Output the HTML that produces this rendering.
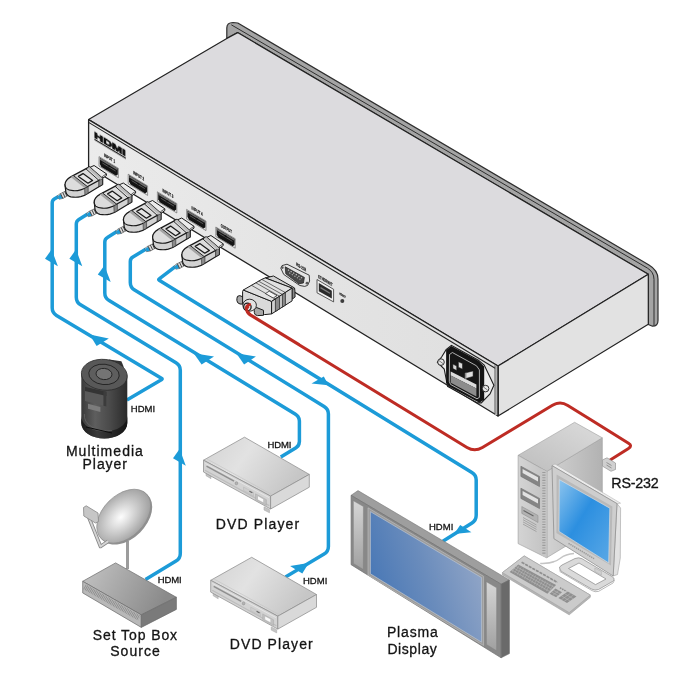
<!DOCTYPE html>
<html><head><meta charset="utf-8">
<style>
html,body{margin:0;padding:0;background:#fff;}
body{width:688px;height:684px;overflow:hidden;font-family:"Liberation Sans",sans-serif;}
svg{display:block;}
text{font-family:"Liberation Sans",sans-serif;fill:#141414;}
#labels text{stroke:#141414;stroke-width:0.3px;}
</style></head><body>
<svg width="688" height="684" viewBox="0 0 688 684">
<defs>
<filter id="gs" x="-5%" y="-30%" width="110%" height="160%" color-interpolation-filters="sRGB"><feOffset dx="0" dy="0"/></filter>

<linearGradient id="gCyl" x1="0" x2="1" y1="0" y2="0"><stop offset="0" stop-color="#3a3a3a"/><stop offset="0.3" stop-color="#5e5e5e"/><stop offset="0.62" stop-color="#4a4a4a"/><stop offset="1" stop-color="#2a2a2a"/></linearGradient>
<linearGradient id="gCylB" x1="0" x2="1" y1="0" y2="0"><stop offset="0" stop-color="#1c1c1c"/><stop offset="0.35" stop-color="#3a3a3a"/><stop offset="1" stop-color="#141414"/></linearGradient>
<radialGradient id="gDish" cx="0.46" cy="0.47" r="0.55"><stop offset="0" stop-color="#fdfdfd"/><stop offset="0.28" stop-color="#e4e4e4"/><stop offset="0.7" stop-color="#bcbcbc"/><stop offset="1" stop-color="#a0a0a0"/></radialGradient>
<linearGradient id="gStbTop" x1="0" x2="1" y1="0" y2="0.3"><stop offset="0" stop-color="#c4c4c4"/><stop offset="1" stop-color="#8a8a8a"/></linearGradient>
<linearGradient id="gDvdTop" x1="0" x2="1" y1="0" y2="0.4"><stop offset="0" stop-color="#d2d2d2"/><stop offset="0.45" stop-color="#e2e2e2"/><stop offset="1" stop-color="#c6c6c6"/></linearGradient>
<linearGradient id="gScr" x1="0" x2="1" y1="0.7" y2="0.3"><stop offset="0" stop-color="#4475b5"/><stop offset="0.5" stop-color="#6a8cbc"/><stop offset="1" stop-color="#95a8c8"/></linearGradient>
<linearGradient id="gSpk" x1="0" x2="0" y1="0" y2="1"><stop offset="0" stop-color="#d6d6d6"/><stop offset="1" stop-color="#a0a0a0"/></linearGradient>
<linearGradient id="gMon" x1="0" x2="1" y1="0" y2="1"><stop offset="0" stop-color="#8cc4ee"/><stop offset="0.45" stop-color="#2c8fe0"/><stop offset="1" stop-color="#5aa8e6"/></linearGradient>
<linearGradient id="gTwTop" x1="0" x2="1" y1="1" y2="0"><stop offset="0" stop-color="#bdbdbd"/><stop offset="1" stop-color="#dcdcdc"/></linearGradient>
<linearGradient id="gTwSide" x1="0" x2="1" y1="0" y2="0"><stop offset="0" stop-color="#d2d2d2"/><stop offset="1" stop-color="#b2b2b2"/></linearGradient>
<linearGradient id="gFront" gradientUnits="userSpaceOnUse" x1="88" y1="0" x2="498" y2="0"><stop offset="0" stop-color="#ebebeb"/><stop offset="0.5" stop-color="#e4e4e4"/><stop offset="1" stop-color="#dfdfdf"/></linearGradient>
<linearGradient id="gTwFront" x1="0" x2="1" y1="0" y2="0"><stop offset="0" stop-color="#d4d4d4"/><stop offset="1" stop-color="#c2c2c2"/></linearGradient>
<!--DEFS-->
</defs>
<rect width="688" height="684" fill="#fff"/>

<!-- ===== MAIN BOX ===== -->
<g id="mainbox" stroke-linejoin="round">
<!-- flange -->
<path d="M226.8,38.7 L226.8,28 Q226.8,22.6 233,22.5 L237.8,23 L649,265 Q658,270.3 658,279 L658,320.5 Q658,326.2 652.5,326.2 L648.3,324.5 L648.3,274.3 L237.6,32.6 Z" fill="#a4a4a4" stroke="#2e2e2e" stroke-width="1.2"/>
<path d="M231.3,24.8 L647.3,268 Q654,272 654,279.5 L654,325.6" fill="none" stroke="#2e2e2e" stroke-width="1"/>
<!-- top face -->
<path d="M88.6,119.6 L226.8,38.4 L237.6,32.6 L648.3,274.3 L498,366 Z" fill="#dcdbde" stroke="#222" stroke-width="1.2"/>
<!-- right face -->
<path d="M498,366 L648.3,274.3 L648.3,324.3 L498,416 Z" fill="#e2e2e2" stroke="#222" stroke-width="1.2"/>
<!-- front face -->
<path d="M88.6,119.6 L498,366 L498,416 L88.6,167 Z" fill="url(#gFront)" stroke="#222" stroke-width="1.3"/>
<path d="M88.6,122.4 L496,368.7" fill="none" stroke="#222" stroke-width="1.1"/>
<path d="M496.4,366 L496.4,415" fill="none" stroke="#b2b2b2" stroke-width="2.6"/>
<path d="M494.9,365.2 L494.9,414" fill="none" stroke="#444" stroke-width="0.7"/>
<path d="M498,366 L498,416" fill="none" stroke="#222" stroke-width="1.2"/>
</g>


<!-- ===== PANEL DETAILS ===== -->
<g id="panel">
<!-- HDMI logo -->
<g transform="matrix(1,0.6,0,1,94.2,131.6)" filter="url(#gs)">
<text x="0" y="6.1" font-size="8.5" font-weight="bold" textLength="31.5" lengthAdjust="spacingAndGlyphs" fill="#0c0c0c" stroke="#0c0c0c" stroke-width="0.7">HDMI</text>
<rect x="0.2" y="7.1" width="31.4" height="1.2" fill="#0c0c0c"/>
</g>
<defs>
<g id="hport">
<path d="M0,0 L19.4,11.7 L19.4,21.2 L0,9.5 Z" fill="#e9e9e9" stroke="#4a4a4a" stroke-width="0.55"/>
<path d="M0.8,1.1 L18.8,11.9 L18.8,17.8 L17,19.2 L2.4,10.4 L0.8,7.4 Z" fill="#141414"/>
<path d="M1.2,2.4 L18.4,12.8" stroke="#6e6e6e" stroke-width="1.5" fill="none"/>
<path d="M3.4,6.4 L16.6,14.4" stroke="#555" stroke-width="1" fill="none"/>
<path d="M9,8.8 L11,10" stroke="#141414" stroke-width="1.6" fill="none"/>
</g>
</defs>
<use href="#hport" x="99" y="156.6"/>
<use href="#hport" x="128.2" y="174.2"/>
<use href="#hport" x="157.4" y="191.8"/>
<use href="#hport" x="186.6" y="209.4"/>
<use href="#hport" x="215.8" y="227"/>
<g font-size="4.7" font-weight="bold" fill="#111" stroke="#111" stroke-width="0.2" filter="url(#gs)">
<text transform="matrix(1,0.6,0,1,104,156.5)" textLength="11" lengthAdjust="spacingAndGlyphs">INPUT 1</text>
<text transform="matrix(1,0.6,0,1,133.2,174.1)" textLength="11" lengthAdjust="spacingAndGlyphs">INPUT 2</text>
<text transform="matrix(1,0.6,0,1,162.4,191.7)" textLength="11" lengthAdjust="spacingAndGlyphs">INPUT 3</text>
<text transform="matrix(1,0.6,0,1,191.6,209.3)" textLength="11" lengthAdjust="spacingAndGlyphs">INPUT 4</text>
<text transform="matrix(1,0.6,0,1,220.8,226.9)" textLength="11" lengthAdjust="spacingAndGlyphs">OUTPUT</text>
<text transform="matrix(1,0.6,0,1,296.2,265.6)" textLength="10" lengthAdjust="spacingAndGlyphs">RS-232</text>
<text transform="matrix(1,0.6,0,1,318.3,277.9)" textLength="14.2" lengthAdjust="spacingAndGlyphs">ETHERNET</text>
<text transform="matrix(1,0.6,0,1,339.5,294.5)" font-size="3" textLength="6" lengthAdjust="spacingAndGlyphs">RESET</text>
</g>
<!-- DB9 port -->
<path d="M280.8,268.2 L282,265.6 L287,264.2 L309.2,275.2 L309.6,281 L307.6,285.4 L304.7,286.4 L299.8,285.5 L283.7,274.4 Z" fill="#e4e4e4" stroke="#2a2a2a" stroke-width="0.9"/>
<path d="M285.2,266.8 L304.4,277.4 L303.4,283 L298.9,283.8 L285.8,273.8 Z" fill="#474747" stroke="#1a1a1a" stroke-width="0.7"/>
<path d="M288,269.8 L302.2,278.2" stroke="#c4c4c4" stroke-width="1.2" stroke-dasharray="1.3,1.7" fill="none"/>
<path d="M289.2,272.8 L300.4,279.6" stroke="#b0b0b0" stroke-width="1.1" stroke-dasharray="1.3,1.7" fill="none"/>
<circle cx="282.4" cy="267.6" r="1.3" fill="#5a5a5a"/><circle cx="307" cy="283.2" r="1.4" fill="#5a5a5a"/>
<!-- Ethernet -->
<path d="M317,279.5 L333.6,289.3 L333.6,301.9 L317,292.8 Z" fill="#efefef" stroke="#333" stroke-width="0.8"/>
<path d="M318.8,283 L331.8,290.7 L331.8,298.5 L318.8,291.3 Z" fill="#2a2a2a"/>
<path d="M320.5,287.6 L330,293.2" stroke="#7d7d7d" stroke-width="1.3" fill="none"/>
<circle cx="342.3" cy="300.9" r="2" fill="#3c3c3c"/>
<!-- Power inlet -->
<path d="M437.4,362.2 L441.6,357 L446.1,349.6 L451.4,345.3 L478.4,360.3 L484.2,365.1 L493.9,385.3 L490,394 L481.3,402.9 L477.5,402.9 L447.6,386.3 L444.2,369 Z" fill="#ededed" stroke="#1c1c1c" stroke-width="1.1"/>
<path d="M446.1,350.1 L451.4,346 L478.4,360.7 L484.2,366.5 L484.2,399.8 L479.4,402.7 L448.5,386.3 L446.1,382.4 Z" fill="#141414"/>
<path d="M449.5,354.5 L452.4,352.5 L476.5,365.8 L479.4,369.9 L479.4,397.4 L477,398.8 L450.5,384.4 L449.3,381.5 Z" fill="#161616" stroke="#f0f0f0" stroke-width="0.7"/>
<path d="M450.7,371.4 L476.4,384.6 L476.4,388.6 L450.7,375.6 Z" fill="#dcdcdc"/>
<path d="M450.7,375.4 L476.4,388.4 L476.4,396.6 L450.7,382.8 Z" fill="#8c8c8c"/>
<path d="M452.9,364.1 L456.7,366 L456.7,370.6 L452.9,368.6 Z" fill="#d6d6d6" stroke="#111" stroke-width="0.5"/>
<path d="M458.4,361.7 L462.5,363.6 L462.5,369.2 L458.4,367.2 Z" fill="#dadada" stroke="#111" stroke-width="0.5"/>
<path d="M464.9,373.1 L473.1,370.9 L473.1,376.4 L464.9,378.8 Z" fill="#dedede" stroke="#111" stroke-width="0.5"/>
<path d="M464.9,373.1 L466.4,372.7 L466.4,378.4 L464.9,378.8 Z" fill="#8a8a8a"/>
<circle cx="441" cy="362.1" r="3.3" fill="#e8e8e8" stroke="#1c1c1c" stroke-width="0.9"/>
<path d="M439,360.6 L443,363.6" stroke="#555" stroke-width="0.7"/>
<circle cx="485.6" cy="388.6" r="3.3" fill="#e8e8e8" stroke="#1c1c1c" stroke-width="0.9"/>
<path d="M483.6,387.1 L487.6,390.1" stroke="#555" stroke-width="0.7"/>
</g>


<!-- ===== CABLES ===== -->
<g id="cables" fill="none" stroke="#1c9bd8" stroke-width="3.5" stroke-linejoin="round" stroke-linecap="butt">
<!-- c1 -->
<path d="M58.5,196.6 L54.3,199.1 Q52.2,200.4 52.2,202.9 L52.2,307.8 Q52.2,312.8 56.5,315.4 L161.8,378.6 Q162.5,379.0 161.8,379.4 L126.9,399.9"/>
<!-- c2 -->
<path d="M87.7,214.1 L78.9,219.4 Q76.3,221.0 76.3,224.0 L76.3,297.2 Q76.3,302.2 80.6,304.8 L176.0,362.7 Q180.3,365.2 180.3,370.2 L180.3,553.5 Q180.3,558.5 176.0,561.1 L145.5,579.4"/>
<!-- c3 -->
<path d="M116.9,231.6 L107.4,237.4 Q104.8,238.9 104.8,241.9 L104.8,293.0 Q104.8,298.0 109.1,300.6 L295.1,414.0 Q299.4,416.6 299.4,421.6 L299.4,441.6 Q299.4,445.6 296.0,447.7 L280.8,457.0"/>
<!-- c4 -->
<path d="M146.1,249.1 L132.9,257.1 Q130.3,258.6 130.3,261.6 L130.3,282.4 Q130.3,287.4 134.6,290.0 L324.1,406.5 Q328.4,409.1 328.4,414.1 L328.4,546.4 Q328.4,551.4 324.1,554.0 L285.5,577.0"/>
<!-- c5 -->
<path d="M175.3,266.6 L159.2,278.9 Q158.2,279.6 159.2,280.2 L471.9,472.5 Q476.2,475.1 476.2,480.1 L476.2,515.3 Q476.2,520.3 472.0,523.0 L442.9,541.2"/>
</g>
<g id="arrows" fill="#1c9bd8" stroke="none">
<path d="M51.6,249.5 L45,258.8 L57.9,266.3 Z"/>
<path d="M76,249.5 L69.4,258.8 L82.3,266.3 Z"/>
<path d="M104.4,265.4 L97.8,274.6 L110.7,282.1 Z"/>
<path d="M89.6,334.6 L108.8,338.4 L96.6,346 Z"/>
<path d="M193.7,353.3 L214,356.6 L201.6,364.5 Z"/>
<path d="M236.3,353.3 L255.9,356.6 L244.1,364.5 Z"/>
<path d="M328.5,385.2 L311.5,383.5 L323.8,376.4 Z"/>
<path d="M308.7,562.9 L290.1,566 L302.3,573.6 Z"/>
<path d="M454.1,534.1 L460.2,524.9 L471.4,532.3 Z"/>
<path d="M179.6,448.9 L173,458.2 L185.8,465.8 Z"/>
</g>
<g fill="none" stroke="#be2c24" stroke-width="3" stroke-linejoin="round">
<path d="M246.9,306.5 L247.5,310.8 Q247.8,313.3 249.9,314.6 L467.0,447.5 Q474.7,452.2 482.4,447.5 L552.5,405.3 Q560.2,400.6 567.8,405.4 L628.5,443.2 Q632.7,445.8 628.5,448.5 L609.0,460.7"/>
</g>


<!-- ===== HDMI CONNECTORS ===== -->
<defs>
<g id="hconn" stroke-linejoin="round">
<!-- strain relief -->
<path d="M57.2,196.2 L59.2,194.2 L66.6,190.6 L69.6,194.6 L63,198.4 L59,199.2 Z" fill="#dcdcdc" stroke="#444" stroke-width="0.6"/>
<path d="M57.4,196.4 L60.6,194.2 L62.6,198.2 L59.2,199 Z" fill="#1c9bd8"/>
<path d="M60.6,193.8 L62.8,198.4 M62.8,192.6 L65,197.2 M64.8,191.6 L67,196.2" stroke="#333" stroke-width="0.9" fill="none"/>
<!-- tip -->
<path d="M89.6,167.5 L94.1,165.5 L106.4,173.8 L106.4,175.6 L102.4,178.4 L89.6,170 Z" fill="#ececec" stroke="#1a1a1a" stroke-width="1"/>
<path d="M102.3,176.6 L106.4,173.8 M102.3,176.6 L102.3,178.4" stroke="#1a1a1a" stroke-width="0.7" fill="none"/>
<!-- body side -->
<path d="M65,184.6 L65.8,191.8 Q67,195.8 70.8,196.8 Q76,197.8 80.7,196.6 Q85,195.4 88.2,193.2 L102.6,184.6 L102.6,178.4 L65,184.6 Z" fill="#d2d2d2" stroke="#1a1a1a" stroke-width="1.2"/>
<!-- body top -->
<path d="M65,184.6 Q65.2,179.9 70.7,176.9 L89.4,166.9 L102.6,178.4 L86.3,187.3 Q84,188.9 80.7,189.9 Q77,191 73.1,190.7 Q68.6,190.4 66.4,188.6 Q65,187 65,184.6 Z" fill="#dcdcdc" stroke="#1a1a1a" stroke-width="1.2"/>
<!-- bands -->
<path d="M98.8,180.6 L102.6,178.4 L102.6,184.6 L98.8,186.8 Z" fill="#8c8c8c" stroke="#1a1a1a" stroke-width="0.7"/>
<path d="M70.7,176.9 L73.4,175.5 L87.4,186.6 L84.6,188.1 Z" fill="#a4a4a4"/>
<path d="M84.6,188.5 L88.2,186.6 L88.2,193.2 L84.9,195 Z" fill="#8c8c8c" stroke="#1a1a1a" stroke-width="0.5"/>
<!-- platform -->
<path d="M73.4,175.5 L87.4,186.6 M85.9,168.8 L98.9,180.4" fill="none" stroke="#1a1a1a" stroke-width="0.9"/>
<path d="M87.2,168.2 L89.4,166.9 L102.6,178.4 L100.2,179.8 Z" fill="#bdbdbd" stroke="none"/>
<!-- inset -->
<path d="M78.4,176.4 L83,173.6 L92.6,180.4 L88,183.2 Z" fill="#e6e6e6" stroke="#1a1a1a" stroke-width="1.25"/>
</g>
</defs>
<g id="hconns">
<use href="#hconn" x="116.8" y="70"/>
<use href="#hconn" x="87.6" y="52.5"/>
<use href="#hconn" x="58.4" y="35"/>
<use href="#hconn" x="29.2" y="17.5"/>
<use href="#hconn" x="0" y="0"/>
</g>
<!-- DB9 connector -->
<g id="db9" stroke-linejoin="round" stroke="#1a1a1a" stroke-width="1">
<!-- metal shell to port -->
<path d="M265.2,277.9 L273.5,276 L294.6,288 L295,297 L292.1,299 L292.1,288.1 Z" fill="#d0d0d0"/>
<path d="M292.1,288.1 L294.8,289.6 L294.8,297.3 L292.1,299 Z" fill="#8a8a8a" stroke-width="0.6"/>
<!-- left thumbscrew -->
<path d="M236.9,298.6 Q236.6,295.6 239.8,295.6 L246.5,298.4 L246.5,304.2 L240,304 Q237,303.2 236.9,300.6 Z" fill="#a8a8a8"/>
<!-- rear face -->
<path d="M242.6,291.4 L243.3,290 L271.6,301.4 L271.6,313.9 L264.7,314.6 L242.6,303.7 Z" fill="#dadada"/>
<!-- top face -->
<path d="M243.3,290 L261.9,279.3 L265.2,277.9 L292.1,288.1 L271.6,301.4 Z" fill="#e0e0e0"/>
<!-- side face -->
<path d="M271.6,301.4 L292.1,288.1 L292.1,300.9 L271.6,313.9 Z" fill="#d2d2d2"/>
<path d="M275.4,299 L279.6,296.3 L279.6,308.9 L275.4,311.5 Z M282.4,294.5 L285.4,292.6 L285.4,305.2 L282.4,307.1 Z" fill="#8c8c8c" stroke-width="0.7"/>
<path d="M275.4,299 L251.5,285.3 M279.6,296.3 L255.8,282.8 M282.4,294.5 L258.6,281.2 M285.4,292.6 L261.8,279.4" stroke="#333" stroke-width="0.7" fill="none"/>
<path d="M265.4,293.6 L269.2,291.2 L277,295.6 L273.2,298 Z" fill="#f4f4f4" stroke-width="0.7"/>
<!-- right thumbscrew -->
<path d="M254.3,310.4 Q254,307.6 256.8,307.6 L263.5,310.3 L263.5,315.3 L257.4,315.6 Q254.4,315.2 254.3,312.6 Z" fill="#a8a8a8"/>
<!-- boot -->
<ellipse cx="249.6" cy="305.2" rx="6.8" ry="6" fill="#e2e2e2" stroke-width="0.9"/>
<ellipse cx="247.4" cy="306.9" rx="3.7" ry="3.8" fill="#ececec" stroke="#1a1a1a" stroke-width="1.3"/>
<circle cx="247.4" cy="307.3" r="1.7" fill="#c0302a" stroke="none"/>
</g>
<path d="M249.6,304.6 Q245.6,305.8 246.4,309.6 Q247,312.6 249.9,314.6" fill="none" stroke="#be2c24" stroke-width="3" stroke-linecap="round"/>


<!-- ===== MULTIMEDIA PLAYER ===== -->
<g id="mmplayer">
<path d="M107.5,362.8 L109,359.6 L121.4,361.2 L123.8,367 Z" fill="#333"/>
<path d="M81.3,374.8 L81.3,423 A23,15.4 0 0 0 127.3,423 L127.3,374.8 Z" fill="url(#gCyl)"/>
<path d="M81.3,416 L81.3,423 A23,15.4 0 0 0 127.3,423 L127.3,416 A23,15.4 0 0 1 81.3,416 Z" fill="url(#gCylB)"/>
<path d="M84.4,414 A23,15.4 0 0 0 112,430.6" fill="none" stroke="#6a6a6a" stroke-width="0.7"/>
<path d="M85,386.8 L106.5,391.8 L106.5,406.5 L85,401 Z" fill="#5a5a5a"/>
<path d="M85,386.8 L106.5,391.8 L106.5,396 L85,391 Z" fill="#343434"/>
<path d="M103.4,391 L106.5,391.8 L106.5,406.5 L103.4,405.7 Z" fill="#3c3c3c"/>
<path d="M88,403.8 L100.4,407 L100.4,412 L88,408.8 Z" fill="#7c7c7c"/>
<path d="M86,427 L112,433" stroke="#0c0c0c" stroke-width="1" fill="none"/>
<ellipse cx="104.3" cy="374.8" rx="23" ry="15.4" fill="#585858" stroke="#2c2c2c" stroke-width="0.8" transform="rotate(6 104.3 374.8)"/>
<ellipse cx="104" cy="374.4" rx="15.3" ry="10.2" fill="#5e5e5e" stroke="#222" stroke-width="0.9" transform="rotate(6 104 374.4)"/>
<ellipse cx="104" cy="374" rx="8" ry="5.6" fill="#747474" stroke="#222" stroke-width="0.9" transform="rotate(6 104 374)"/>
</g>

<!-- ===== DISH + SET TOP BOX ===== -->
<g id="stb" stroke-linejoin="round">
<path d="M127.5,541 L127.5,569" stroke="#9c9c9c" stroke-width="3" fill="none"/>
<ellipse cx="125" cy="517.3" rx="32" ry="21.4" transform="rotate(-45 125 517.3)" fill="#909090"/>
<ellipse cx="123.7" cy="516.2" rx="31.8" ry="21" transform="rotate(-45 123.7 516.2)" fill="url(#gDish)" stroke="#8e8e8e" stroke-width="0.7"/>
<path d="M87.5,514 L100.5,546.5 L108.3,541.2" fill="none" stroke="#888" stroke-width="3.6"/>
<path d="M87.5,514 L100.5,546.5 L108.3,541.2" fill="none" stroke="#d4d4d4" stroke-width="2"/>
<path d="M83.5,507.5 L86.2,505.8 L98,513 L98.5,521.5 L95.5,523 L83.8,516 Z" fill="#c6c6c6" stroke="#888" stroke-width="0.8"/>
<path d="M82.7,581.3 L115.6,562.9 L176.4,597.3 L141.3,614.9 Z" fill="url(#gStbTop)" stroke="#6a6a6a" stroke-width="0.7"/>
<path d="M82.7,581.3 L141.3,614.9 L141.3,627.4 L82.7,592.9 Z" fill="#b8b8b8" stroke="#6a6a6a" stroke-width="0.7"/>
<path d="M141.3,614.9 L176.4,597.3 L176.4,609.4 L141.3,627.4 Z" fill="#7a7a7a" stroke="#6a6a6a" stroke-width="0.7"/>
<path d="M84.6,586.8 L139.4,618.2" stroke="#8a8a8a" stroke-width="5.4" stroke-dasharray="0.8,0.9" fill="none"/>
</g>

<!-- ===== DVD PLAYERS ===== -->
<defs>
<g id="dvd" stroke-linejoin="round">
<path d="M206,472.5 L206,475.7 L211,478.7 L211,475.5 Z M264,506.8 L264,510 L269.5,512.8 L269.5,509.6 Z" fill="#c4c4c4" stroke="#a2a2a2" stroke-width="0.5"/>
<path d="M203.5,460.2 L244.5,437.2 L309.3,474.4 L270.6,496.1 Z" fill="url(#gDvdTop)" stroke="#8e8e8e" stroke-width="0.75"/>
<path d="M203.5,460.2 L270.6,496.1 L270.6,509 L203.5,472 Z" fill="#d3d3d3" stroke="#8e8e8e" stroke-width="0.75"/>
<path d="M270.6,496.1 L309.3,474.4 L309.3,487.2 L270.6,509 Z" fill="#d9d9d9" stroke="#8e8e8e" stroke-width="0.75"/>
<path d="M205,470.2 L269.2,505.6" stroke="#bdbdbd" stroke-width="1.2" fill="none"/>
<path d="M206.5,466.2 L234,481.2" stroke="#8e8e8e" stroke-width="1.5" fill="none"/>
<path d="M205.3,463.4 L269,497.6" stroke="#eaeaea" stroke-width="0.8" fill="none"/>
<path d="M206.6,458.8 L272.4,494.8" stroke="#c2c2c2" stroke-width="0.6" fill="none"/>
<ellipse cx="236.4" cy="483.3" rx="1.3" ry="1.5" fill="#b4b4b4" stroke="#888" stroke-width="0.5"/>
<path d="M243.5,487 L253.5,492.4 L253.5,496 L243.5,490.4 Z" fill="#cdcdcd" stroke="#b0b0b0" stroke-width="0.4"/>
<path d="M249.4,491.2 L252.4,492.8" stroke="#666" stroke-width="1.1"/>
<path d="M255.5,493.8 L266.4,499.7 L266.4,505.4 L255.5,499.5 Z" fill="#c0c0c0" stroke="#a0a0a0" stroke-width="0.4"/>
<path d="M258,496.3 L263.2,499.2 L263.2,502.2 L258,499.4 Z" fill="#fafafa"/>
</g>
</defs>
<use href="#dvd" x="0" y="0"/>
<use href="#dvd" x="7.2" y="120.1"/>

<!-- ===== PLASMA ===== -->
<g id="plasma" stroke-linejoin="round">
<path d="M351.1,495.3 L358,490.6 L509.4,580 L501.1,584.2 Z" fill="#9e9e9e" stroke="#7a7a7a" stroke-width="0.6"/>
<path d="M501.1,584.2 L509.4,580 L509.4,653.6 L501.1,657.8 Z" fill="#6a6a6a" stroke="#666" stroke-width="0.6"/>
<path d="M351.1,495.3 L501.1,584.2 L501.1,657.8 L351.1,564.7 Z" fill="#888888" stroke="#707070" stroke-width="0.7"/>
<path d="M353.4,500.8 L363.4,506.6 L363.4,569.6 L353.4,563.4 Z" fill="url(#gSpk)" stroke="#7c7c7c" stroke-width="0.4"/>
<path d="M486.4,581.8 L496.6,587.8 L496.6,650.8 L486.4,644.4 Z" fill="url(#gSpk)" stroke="#7c7c7c" stroke-width="0.4"/>
<path d="M368,507.8 L483.6,576.3 L483.6,645.5 L368,575 Z" fill="#9c9c9c" stroke="#bcbcbc" stroke-width="0.7"/>
<path d="M370.4,511.6 L481.6,577.6 L481.6,642.2 L370.4,573.8 Z" fill="url(#gScr)" stroke="#bcc4d0" stroke-width="0.7"/>
</g>

<!-- ===== COMPUTER ===== -->
<g id="pc" stroke-linejoin="round">
<!-- serial plug at back -->
<path d="M602.3,460 L607,457.8 L615.5,463 L615.5,469.5 L611,471.3 L602.3,466 Z" fill="#d0d0d0" stroke="#888" stroke-width="0.6"/>
<path d="M606.5,462.5 L611.5,465.5 M606.5,465 L611.5,468" stroke="#777" stroke-width="0.7"/>
<!-- tower -->
<path d="M546.8,471.4 L602.3,437.8 L602.3,524 L546.8,557.7 Z" fill="url(#gTwSide)" stroke="#9a9a9a" stroke-width="0.6"/>
<path d="M518.1,455.3 L574.6,422.3 L602.3,437.8 L546.8,471.4 Z" fill="url(#gTwTop)" stroke="#a0a0a0" stroke-width="0.6"/>
<path d="M518.1,455.3 L546.8,471.4 L546.8,557.9 L518.1,543.6 Z" fill="url(#gTwFront)" stroke="#9a9a9a" stroke-width="0.6"/>
<path d="M541,468.5 L546.8,471.4 L546.8,557.9 L541,555 Z" fill="#c6c6c6"/>
<path d="M543.9,472 L543.9,555" stroke="#9c9c9c" stroke-width="3.2" stroke-dasharray="1.1,1.5" fill="none"/>
<path d="M520.9,466.2 L539.5,476.4 L539.5,486.6 L520.9,476.4 Z" fill="#858585" stroke="#6e6e6e" stroke-width="0.6"/>
<path d="M522.6,469 L538,477.3 L538,481.4 L522.6,473 Z" fill="#e2e2e2"/>
<path d="M520.9,488.2 L539.5,498.4 L539.5,508.6 L520.9,498.4 Z" fill="#858585" stroke="#6e6e6e" stroke-width="0.6"/>
<path d="M522.6,491 L538,499.3 L538,503.4 L522.6,495 Z" fill="#e2e2e2"/>
<path d="M521.8,506.5 L538,515.5 L538,522.5 L521.8,513.4 Z" fill="#b2b2b2" stroke="#888" stroke-width="0.5"/>
<path d="M523.5,510.4 L533.5,516 " stroke="#666" stroke-width="1.1"/>
<path d="M523,517.5 L536.5,525 M523,519.7 L536.5,527.2 M523,521.9 L536.5,529.4 M523,524.1 L536.5,531.6" stroke="#999" stroke-width="0.8"/>
<!-- keyboard cable -->
<path d="M540.2,563.4 Q553,564 560,558.5 Q566,554 574,553.6" fill="none" stroke="#c4c4c4" stroke-width="1.5"/>
<!-- monitor stand -->
<path d="M560,569.4 Q558,567 562,565 L575,558.5 Q579,557 582,558.7 L612,576.5 Q616,579 612.5,581.5 L598.5,589.5 Q595,591 591.5,589 L561.5,571.5 Z" fill="#dadada" stroke="#8a8a8a" stroke-width="0.7"/>
<path d="M568.5,568.5 L579,563 L606,579 L595.5,584.6 Z" fill="#fff" stroke="#8a8a8a" stroke-width="0.7"/>
<path d="M560,569.4 L560,571.6 L592,590.6 Q595,592.4 598.5,591.4 L613,583 L614.5,580" fill="none" stroke="#8a8a8a" stroke-width="0.6"/>
<path d="M594.8,568 L594.8,571.5 L601.4,575.2 L601.4,571.5 Z" fill="#d0d0d0" stroke="#aaa" stroke-width="0.5"/>
<!-- monitor -->
<path d="M617,503.6 L620.6,508 L620.3,558 L617.5,574.5 L613.2,576 Z" fill="#e2e2e2" stroke="#a2a2a2" stroke-width="0.6"/>
<path d="M552,465.6 L555,464 L620.6,503.2 L617,503.6 Z" fill="#ececec" stroke="#aaa" stroke-width="0.5"/>
<path d="M552,465.6 L617,503.6 L613.2,576 L553.9,538.7 Z" fill="#cecece" stroke="#8f8f8f" stroke-width="0.8"/>
<path d="M556.6,474.6 L612.4,506.4 L611,565.6 L556.4,533 Z" fill="#b9b9b9"/>
<path d="M559.3,479.6 L609.8,508.2 L608.7,562.9 L559,531.4 Z" fill="url(#gMon)" stroke="#e4e4e4" stroke-width="0.6"/>
<path d="M568.5,543.3 L594.1,558.7" stroke="#9a9a9a" stroke-width="1.5" stroke-dasharray="1.4,0.8" fill="none"/>
<!-- keyboard -->
<path d="M502.4,572.6 L524.2,555.9 L590.3,595.1 L590.3,597.3 L569.2,614.8 L502.4,574.8 Z" fill="#b4b4b4" stroke="#9a9a9a" stroke-width="0.6"/>
<path d="M502.4,572.6 L524.2,555.9 L590.3,595.1 L569.2,612.6 Z" fill="#cbcbcb" stroke="#a2a2a2" stroke-width="0.6"/>
<path d="M509.6,571.9 L518.3,564.6 L556.1,585 L547.4,593.7 Z" fill="#8f8f8f"/>
<path d="M521.6,562.2 L557.4,582.4" stroke="#8f8f8f" stroke-width="1.7" stroke-dasharray="3.2,0.9" fill="none"/>
<path d="M511.8,570.1 L549.6,591.5 M514,568.3 L551.8,589.3 M516.1,566.5 L553.9,587.1" stroke="#bdbdbd" stroke-width="0.55" fill="none"/>
<path d="M514,568.2 L551.8,589.3" stroke="#bdbdbd" stroke-width="8.6" stroke-dasharray="0.45,2.35" fill="none" opacity="0.8"/>
<path d="M549.6,593.7 L555.4,588.6 L562,592.2 L556.1,597.3 Z" fill="#8f8f8f"/>
<path d="M558.3,598.1 L567.8,591.5 L576.5,596.6 L567,603.1 Z" fill="#8f8f8f"/>
<path d="M561.4,595.9 L570.1,601 M564.6,593.7 L573.3,598.8 M561.2,599.8 L570.7,593.2 M564.1,601.4 L573.6,594.9" stroke="#bdbdbd" stroke-width="0.55" fill="none"/>
<path d="M551.5,592 L558.1,595.6 M553.5,590.3 L560,593.9 M552.8,595.5 L558.6,590.4" stroke="#bdbdbd" stroke-width="0.55" fill="none"/>
<path d="M560,587.8 L566.5,591.4" stroke="#8f8f8f" stroke-width="1.6" stroke-dasharray="1.6,0.8" fill="none"/>
</g>


<!-- ===== LABELS ===== -->
<g id="labels" filter="url(#gs)">
<text x="65.9" y="456.1" font-size="14" textLength="77" lengthAdjust="spacing">Multimedia</text>
<text x="82.6" y="468.7" font-size="14" textLength="44.3" lengthAdjust="spacing">Player</text>
<text x="92.8" y="639.6" font-size="14" textLength="84.3" lengthAdjust="spacing">Set Top Box</text>
<text x="110.2" y="656" font-size="14" textLength="49.5" lengthAdjust="spacing">Source</text>
<text x="215.8" y="528.5" font-size="14" textLength="83.4" lengthAdjust="spacing">DVD Player</text>
<text x="229.8" y="648.9" font-size="14" textLength="82.9" lengthAdjust="spacing">DVD Player</text>
<text x="386.9" y="636.8" font-size="14" textLength="50.9" lengthAdjust="spacing">Plasma</text>
<text x="387.4" y="653.5" font-size="14" textLength="49.4" lengthAdjust="spacing">Display</text>
<text x="611.3" y="488" font-size="14.3" textLength="47.5" lengthAdjust="spacing">RS-232</text>
<text x="130.8" y="411.7" font-size="9.5" textLength="24.4" lengthAdjust="spacing">HDMI</text>
<text x="267.6" y="447.9" font-size="9.5" textLength="23.7" lengthAdjust="spacing">HDMI</text>
<text x="157.7" y="583.2" font-size="9.5" textLength="23.9" lengthAdjust="spacing">HDMI</text>
<text x="302.9" y="583.7" font-size="9.5" textLength="24.4" lengthAdjust="spacing">HDMI</text>
<text x="428.9" y="530.2" font-size="9.5" textLength="24.4" lengthAdjust="spacing">HDMI</text>
</g>
</svg>
</body></html>
